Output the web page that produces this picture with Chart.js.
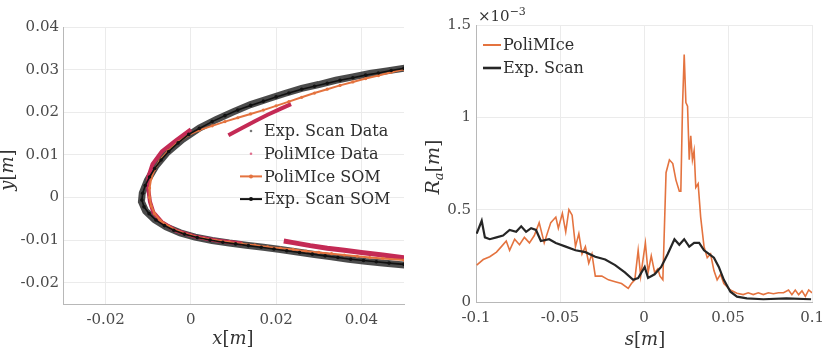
<!DOCTYPE html>
<html>
<head>
<meta charset="utf-8">
<script src="https://cdn.jsdelivr.net/npm/chart.js@4.4.1/dist/chart.umd.min.js"></script>
<style>
  html, body { margin: 0; padding: 0; background: #fff; }
  #wrap { position: relative; width: 831px; height: 352px; overflow: hidden; }
  #left { position: absolute; left: 0; top: 0; }
  #right { position: absolute; left: 420px; top: 0; }
</style>
</head>
<body>
<div id="wrap">
  <canvas id="left" width="420" height="352"></canvas>
  <canvas id="right" width="411" height="352"></canvas>
</div>
<script>
// ---- left panel: ice profile, x / y in m ----
const leftXTicks = [-0.02, 0, 0.02, 0.04];
const leftYTicks = [-0.02, -0.01, 0, 0.01, 0.02, 0.03, 0.04];

// raw scan points (dense dark band)
const expScanData = [
  [0.0505, 0.0304], [0.0460, 0.0297], [0.0420, 0.0291], [0.0380, 0.0283], [0.0340, 0.0275],
  [0.0300, 0.0265], [0.0260, 0.0256], [0.0220, 0.0244], [0.0180, 0.0231], [0.0140, 0.0218],
  [0.0100, 0.0201], [0.0060, 0.0183], [0.0020, 0.0163], [-0.0020, 0.0136], [-0.0055, 0.0106],
  [-0.0082, 0.0074], [-0.0102, 0.0040], [-0.0114, 0.0010], [-0.0116, -0.0010], [-0.0106, -0.0032],
  [-0.0085, -0.0052], [-0.0058, -0.0069], [-0.0025, -0.0083], [0.0010, -0.0093], [0.0050, -0.0101],
  [0.0090, -0.0107], [0.0130, -0.0112], [0.0170, -0.0117], [0.0210, -0.0122], [0.0250, -0.0128],
  [0.0290, -0.0134], [0.0330, -0.0139], [0.0370, -0.0145], [0.0410, -0.0150], [0.0450, -0.0154],
  [0.0505, -0.0159]
];

// PoliMIce raw points, three visible pieces
const poliDataNose = [
  [0.0000, 0.0160], [-0.0035, 0.0134], [-0.0068, 0.0108], [-0.0090, 0.0078], [-0.0100, 0.0048],
  [-0.0100, 0.0020], [-0.0096, -0.0010], [-0.0088, -0.0035], [-0.0068, -0.0058], [-0.0035, -0.0078],
  [0.0010, -0.0092], [0.0060, -0.0101], [0.0120, -0.0108]
];
const poliDataUpper = [
  [0.0088, 0.0146], [0.0120, 0.0163], [0.0150, 0.0179], [0.0180, 0.0194], [0.0210, 0.0208],
  [0.0235, 0.0219]
];
const poliDataLower = [
  [0.0218, -0.0102], [0.0240, -0.0106], [0.0280, -0.0113], [0.0320, -0.0119], [0.0360, -0.0124],
  [0.0400, -0.0129], [0.0450, -0.0135], [0.0505, -0.0142]
];

const poliSom = [
  [0.0500, 0.0301], [0.0470, 0.0294], [0.0440, 0.0286], [0.0410, 0.0279], [0.0380, 0.0271],
  [0.0350, 0.0263], [0.0320, 0.0254], [0.0290, 0.0245], [0.0260, 0.0235], [0.0230, 0.0225],
  [0.0200, 0.0215], [0.0170, 0.0205], [0.0140, 0.0196], [0.0110, 0.0187], [0.0080, 0.0178],
  [0.0050, 0.0168], [0.0020, 0.0158], [-0.0005, 0.0147], [-0.0030, 0.0130], [-0.0053, 0.0110],
  [-0.0072, 0.0088], [-0.0085, 0.0066], [-0.0093, 0.0045], [-0.0097, 0.0022], [-0.0097, 0.0000],
  [-0.0093, -0.0020], [-0.0085, -0.0038], [-0.0072, -0.0054], [-0.0052, -0.0068], [-0.0028, -0.0080],
  [0.0000, -0.0089], [0.0030, -0.0096], [0.0060, -0.0101], [0.0090, -0.0105], [0.0120, -0.0109],
  [0.0150, -0.0112], [0.0180, -0.0116], [0.0210, -0.0119], [0.0240, -0.0122], [0.0270, -0.0126],
  [0.0300, -0.0129], [0.0330, -0.0132], [0.0360, -0.0135], [0.0390, -0.0138], [0.0420, -0.0141],
  [0.0450, -0.0143], [0.0500, -0.0147]
];

const expScanSom = [
  [0.0500, 0.0303], [0.0470, 0.0298], [0.0440, 0.0292], [0.0410, 0.0287], [0.0380, 0.0281],
  [0.0350, 0.0275], [0.0320, 0.0268], [0.0290, 0.0261], [0.0260, 0.0254], [0.0230, 0.0245],
  [0.0200, 0.0236], [0.0170, 0.0226], [0.0140, 0.0216], [0.0110, 0.0205], [0.0080, 0.0192],
  [0.0050, 0.0178], [0.0020, 0.0162], [-0.0005, 0.0148], [-0.0030, 0.0128], [-0.0052, 0.0108],
  [-0.0070, 0.0088], [-0.0085, 0.0068], [-0.0097, 0.0048], [-0.0107, 0.0028], [-0.0113, 0.0010],
  [-0.0115, -0.0006], [-0.0110, -0.0022], [-0.0098, -0.0038], [-0.0082, -0.0053], [-0.0062, -0.0066],
  [-0.0040, -0.0077], [-0.0015, -0.0086], [0.0015, -0.0094], [0.0045, -0.0100], [0.0075, -0.0105],
  [0.0105, -0.0109], [0.0135, -0.0113], [0.0165, -0.0117], [0.0195, -0.0121], [0.0225, -0.0125],
  [0.0255, -0.0129], [0.0285, -0.0133], [0.0315, -0.0137], [0.0345, -0.0141], [0.0375, -0.0145],
  [0.0405, -0.0148], [0.0435, -0.0151], [0.0465, -0.0154], [0.0500, -0.0157]
];

// ---- right panel: roughness Ra (x 1e-3 m) along s ----
const rightXTicks = [-0.1, -0.05, 0, 0.05, 0.1];
const rightYTicks = [0, 0.5, 1, 1.5];

const poliMIceRa = [
  [-0.0996, 0.20], [-0.0957, 0.23], [-0.0918, 0.245], [-0.0878, 0.27], [-0.0849, 0.30],
  [-0.0820, 0.33], [-0.0800, 0.28], [-0.0770, 0.34], [-0.0741, 0.31], [-0.0712, 0.35],
  [-0.0682, 0.32], [-0.0653, 0.36], [-0.0624, 0.43], [-0.0594, 0.32], [-0.0555, 0.43],
  [-0.0525, 0.46], [-0.0510, 0.40], [-0.0486, 0.48], [-0.0466, 0.38], [-0.0447, 0.50],
  [-0.0428, 0.47], [-0.0408, 0.30], [-0.0388, 0.37], [-0.0369, 0.26], [-0.0349, 0.30],
  [-0.0329, 0.21], [-0.0310, 0.26], [-0.0290, 0.14], [-0.0251, 0.14], [-0.0212, 0.12],
  [-0.0172, 0.11], [-0.0134, 0.10], [-0.0094, 0.074], [-0.0075, 0.10], [-0.0055, 0.12],
  [-0.0035, 0.28], [-0.0020, 0.14], [0.0008, 0.32], [0.0024, 0.16], [0.0043, 0.25],
  [0.0063, 0.16], [0.0082, 0.18], [0.0095, 0.14], [0.0112, 0.12], [0.0131, 0.70],
  [0.0151, 0.77], [0.0171, 0.75], [0.0190, 0.66], [0.0210, 0.60], [0.0219, 0.60],
  [0.0229, 1.06], [0.0239, 1.34], [0.0249, 1.08], [0.0259, 1.06], [0.0269, 0.77],
  [0.0278, 0.90], [0.0288, 0.77], [0.0298, 0.82], [0.0308, 0.62], [0.0322, 0.64],
  [0.0337, 0.46], [0.0357, 0.30], [0.0376, 0.24], [0.0396, 0.26], [0.0416, 0.17],
  [0.0435, 0.12], [0.0455, 0.15], [0.0475, 0.10], [0.0514, 0.065], [0.0553, 0.047],
  [0.0590, 0.04], [0.0620, 0.05], [0.0650, 0.04], [0.0680, 0.05], [0.0710, 0.04],
  [0.0740, 0.05], [0.0770, 0.045], [0.0800, 0.05], [0.0830, 0.05], [0.0860, 0.065],
  [0.0880, 0.04], [0.0900, 0.065], [0.0920, 0.04], [0.0940, 0.06], [0.0960, 0.03],
  [0.0980, 0.065], [0.1000, 0.05]
];

const expScanRa = [
  [-0.0996, 0.37], [-0.0966, 0.44], [-0.0947, 0.35], [-0.0918, 0.34], [-0.0878, 0.35],
  [-0.0839, 0.36], [-0.0800, 0.39], [-0.0761, 0.38], [-0.0731, 0.41], [-0.0702, 0.38],
  [-0.0672, 0.40], [-0.0643, 0.39], [-0.0614, 0.33], [-0.0565, 0.34], [-0.0525, 0.32],
  [-0.0466, 0.30], [-0.0408, 0.28], [-0.0349, 0.27], [-0.0290, 0.245], [-0.0231, 0.23],
  [-0.0172, 0.20], [-0.0114, 0.16], [-0.0065, 0.12], [-0.0035, 0.13], [0.0004, 0.19],
  [0.0024, 0.13], [0.0063, 0.15], [0.0102, 0.19], [0.0141, 0.26], [0.0181, 0.34],
  [0.0210, 0.31], [0.0239, 0.34], [0.0269, 0.30], [0.0298, 0.32], [0.0328, 0.32],
  [0.0357, 0.28], [0.0386, 0.26], [0.0416, 0.24], [0.0445, 0.19], [0.0475, 0.12],
  [0.0514, 0.056], [0.0553, 0.029], [0.0612, 0.02], [0.0710, 0.015], [0.0847, 0.02],
  [0.0994, 0.015]
];

const FONT = '"DejaVu Serif", "Liberation Serif", serif';
const ORANGE = '#e4733f';
const CRIMSON = '#c42a55';
const tickFont = { family: FONT, size: 15 };
const tickColor = '#4a4a4a';
const gridColor = '#ebebeb';
const axisColor = '#b8b8b8';

// writes text pieces like x[m] with italic letters and sub/superscripts
function mathText(ctx, parts, x, y, size, align) {
    let total = 0;
    const info = parts.map(p => {
        const sz = p[2] ? Math.round(size * 0.7) : size;
        ctx.font = (p[1] ? 'italic ' : '') + sz + 'px ' + FONT;
        const w = ctx.measureText(p[0]).width;
        total += w;
        const dy = p[2] === 'sub' ? size * 0.3 : (p[2] === 'sup' ? -size * 0.35 : 0);
        return { font: ctx.font, w, dy };
    });
    let cx = align === 'center' ? x - total / 2 : x;
    ctx.textAlign = 'left';
    ctx.textBaseline = 'middle';
    parts.forEach((p, i) => {
        ctx.font = info[i].font;
        ctx.fillText(p[0], cx, y + info[i].dy);
        cx += info[i].w;
    });
}

function linearAxis(min, max, ticks, size, pad) {
    return {
        type: 'linear',
        min: min,
        max: max,
        afterBuildTicks: s => { s.ticks = ticks.map(v => ({ value: v })); },
        afterFit: s => { if (s.isHorizontal()) s.height = size; else s.width = size; },
        grid: { color: gridColor, drawTicks: false },
        border: { color: axisColor, width: 1 },
        ticks: {
            padding: pad,
            autoSkip: false,
            maxRotation: 0,
            font: tickFont,
            color: tickColor,
            callback: v => String(v)
        }
    };
}

const leftDecor = {
    id: 'leftDecor',
    afterDraw(chart) {
        const ctx = chart.ctx;
        ctx.save();
        ctx.fillStyle = '#333';
        mathText(ctx, [['x', true], ['[', false], ['m', true], [']', false]], 233, 339, 18, 'center');
        ctx.translate(8, 170);
        ctx.rotate(-Math.PI / 2);
        mathText(ctx, [['y', true], ['[', false], ['m', true], [']', false]], 0, 0, 18, 'center');
        ctx.restore();

        // legend
        ctx.save();
        const rows = [
            { label: 'Exp. Scan Data', kind: 'dot', color: '#777' },
            { label: 'PoliMIce Data', kind: 'dot', color: '#e0708f' },
            { label: 'PoliMIce SOM', kind: 'line', color: ORANGE },
            { label: 'Exp. Scan SOM', kind: 'line', color: '#111' }
        ];
        rows.forEach((r, i) => {
            const y = 131 + i * 22.7;
            ctx.fillStyle = r.color;
            ctx.strokeStyle = r.color;
            if (r.kind === 'line') {
                ctx.lineWidth = 2;
                ctx.beginPath();
                ctx.moveTo(240, y);
                ctx.lineTo(262, y);
                ctx.stroke();
            }
            ctx.beginPath();
            ctx.arc(251, y, r.kind === 'line' ? 2 : 1.3, 0, Math.PI * 2);
            ctx.fill();
            ctx.fillStyle = '#2e2e2e';
            ctx.font = '16px ' + FONT;
            ctx.textAlign = 'left';
            ctx.textBaseline = 'middle';
            ctx.fillText(r.label, 264, y + 1);
        });
        ctx.restore();
    }
};

const rightDecor = {
    id: 'rightDecor',
    afterDraw(chart) {
        const ctx = chart.ctx;
        ctx.save();
        ctx.fillStyle = '#333';
        mathText(ctx, [['s', true], ['[', false], ['m', true], [']', false]], 225, 340, 18, 'center');
        mathText(ctx, [['\u00d710', false], ['\u22123', false, 'sup']], 58, 17, 15, 'left');
        ctx.translate(14, 167);
        ctx.rotate(-Math.PI / 2);
        mathText(ctx, [['R', true], ['a', true, 'sub'], ['[', false], ['m', true], [']', false]], 0, 0, 19, 'center');
        ctx.restore();

        ctx.save();
        const rows = [
            { label: 'PoliMIce', color: ORANGE, w: 2 },
            { label: 'Exp. Scan', color: '#262626', w: 2.6 }
        ];
        rows.forEach((r, i) => {
            const y = 45 + i * 23;
            ctx.strokeStyle = r.color;
            ctx.lineWidth = r.w;
            ctx.beginPath();
            ctx.moveTo(63, y);
            ctx.lineTo(81, y);
            ctx.stroke();
            ctx.fillStyle = '#2e2e2e';
            ctx.font = '16px ' + FONT;
            ctx.textAlign = 'left';
            ctx.textBaseline = 'middle';
            ctx.fillText(r.label, 83, y + 1);
        });
        ctx.restore();
    }
};

new Chart(document.getElementById('left'), {
    type: 'scatter',
    data: {
        datasets: [
            { data: expScanData, showLine: true, borderColor: 'rgba(30,30,30,0.8)', borderWidth: 7, pointRadius: 0, order: 5 },
            { data: poliDataNose, showLine: true, borderColor: CRIMSON, borderWidth: 4, pointRadius: 0, order: 4 },
            { data: poliDataUpper, showLine: true, borderColor: CRIMSON, borderWidth: 4, pointRadius: 0, order: 4 },
            { data: poliDataLower, showLine: true, borderColor: CRIMSON, borderWidth: 5, pointRadius: 0, order: 4 },
            { data: poliSom, showLine: true, borderColor: ORANGE, borderWidth: 2, pointRadius: 1.6,
              pointBackgroundColor: ORANGE, pointBorderWidth: 0, order: 2 },
            { data: expScanSom, showLine: true, borderColor: '#111', borderWidth: 1.6, pointRadius: 1.8,
              pointBackgroundColor: '#111', pointBorderWidth: 0, order: 1 }
        ]
    },
    options: {
        responsive: false,
        animation: false,
        devicePixelRatio: 1,
        layout: { padding: { top: 27, right: 16, left: 0, bottom: 0 } },
        plugins: { legend: { display: false }, tooltip: { enabled: false } },
        scales: {
            x: linearAxis(-0.03, 0.05, leftXTicks, 48, 7),
            y: linearAxis(-0.025, 0.04, leftYTicks, 63, 4)
        }
    },
    plugins: [leftDecor]
});

new Chart(document.getElementById('right'), {
    type: 'scatter',
    data: {
        datasets: [
            { data: poliMIceRa, showLine: true, borderColor: ORANGE, borderWidth: 1.6, pointRadius: 0, order: 2 },
            { data: expScanRa, showLine: true, borderColor: '#262626', borderWidth: 2.2, pointRadius: 0, order: 1 }
        ]
    },
    options: {
        responsive: false,
        animation: false,
        devicePixelRatio: 1,
        layout: { padding: { top: 25, right: 15, left: 0, bottom: 0 } },
        plugins: { legend: { display: false }, tooltip: { enabled: false } },
        scales: {
            x: linearAxis(-0.1, 0.1, rightXTicks, 50, 7),
            y: linearAxis(0, 1.5, rightYTicks, 56, 5)
        }
    },
    plugins: [rightDecor]
});
</script>
</body>
</html>
